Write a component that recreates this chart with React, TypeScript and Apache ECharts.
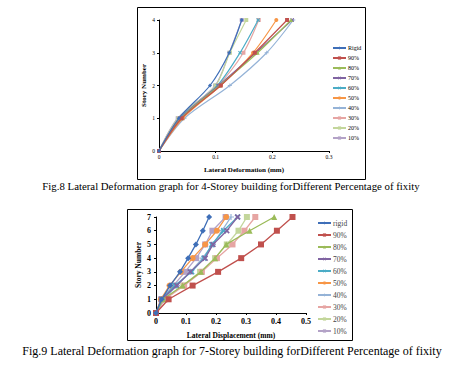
import React, { useEffect, useRef } from "react";
import * as echarts from "echarts";

const legendNames = ["Rigid", "90%", "80%", "70%", "60%", "50%", "40%", "30%", "20%", "10%"];
const legendNames7 = ["rigid", "90%", "80%", "70%", "60%", "50%", "40%", "30%", "20%", "10%"];
const colors = ["#3F6FB8", "#C0504D", "#9BBB59", "#8064A2", "#4BACC6", "#F79646", "#95B3D7", "#E6A5A3", "#C3D69B", "#B3A2C7"];
const xSym = "path://M0,2L2,0L5,3L8,0L10,2L7,5L10,8L8,10L5,7L2,10L0,8L3,5Z";
const symbols = ["diamond", "rect", "triangle", xSym, xSym, "circle", "path://M4,0H6V4H10V6H6V10H4V6H0V4H4Z", "path://M0,4H10V6H0Z", "path://M0,4H10V6H0Z", "rect"];

const stories4 = [0, 1, 2, 3, 4];
const top4: number[][] = [
  [0, 0.035, 0.09, 0.124, 0.146],
  [0, 0.04, 0.109, 0.169, 0.226],
  [0, 0.039, 0.107, 0.174, 0.233],
  [0, 0.038, 0.105, 0.171, 0.235],
  [0, 0.037, 0.103, 0.143, 0.175],
  [0, 0.042, 0.109, 0.166, 0.207],
  [0, 0.045, 0.125, 0.19, 0.237],
  [0, 0.036, 0.104, 0.149, 0.176],
  [0, 0.034, 0.1, 0.125, 0.154],
  [0, 0.033, 0.099, 0.124, 0.146],
];

const stories7 = [0, 1, 2, 3, 4, 5, 6, 7];
const bot7: number[][] = [
  [0, 0.019, 0.047, 0.08, 0.107, 0.133, 0.156, 0.177],
  [0, 0.042, 0.122, 0.207, 0.284, 0.35, 0.403, 0.455],
  [0, 0.024, 0.089, 0.15, 0.197, 0.234, 0.312, 0.394],
  [0, 0.019, 0.069, 0.114, 0.164, 0.19, 0.236, 0.272],
  [0, 0.019, 0.063, 0.119, 0.16, 0.186, 0.225, 0.272],
  [0, 0.016, 0.045, 0.083, 0.122, 0.164, 0.203, 0.234],
  [0, 0.025, 0.07, 0.115, 0.155, 0.19, 0.22, 0.25],
  [0, 0.03, 0.094, 0.153, 0.203, 0.255, 0.295, 0.331],
  [0, 0.024, 0.091, 0.147, 0.197, 0.236, 0.275, 0.303],
  [0, 0.017, 0.058, 0.097, 0.134, 0.164, 0.188, 0.232],
];

const FONT = "Liberation Serif";

export default function App() {
  const ref = useRef<HTMLDivElement>(null);
  useEffect(() => {
    if (!ref.current) return;
    const chart = echarts.init(ref.current, null, { renderer: "svg" });
    const axisCommon = {
      axisLine: { show: true, lineStyle: { color: "#000", width: 1 } },
      axisTick: { show: true, length: 2, lineStyle: { color: "#000" } },
      splitLine: { show: false },
    };
    const series: any[] = [];
    top4.forEach((vals, i) => {
      series.push({
        type: "line",
        name: legendNames[i],
        xAxisIndex: 0,
        yAxisIndex: 0,
        smooth: 0.3,
        data: vals.map((v, k) => [v, stories4[k]]),
        symbol: symbols[i],
        symbolSize: 4,
        itemStyle: { color: colors[i] },
        lineStyle: { width: 1.2, color: colors[i] },
        z: 20 - i,
      });
    });
    bot7.forEach((vals, i) => {
      series.push({
        type: "line",
        name: legendNames7[i],
        xAxisIndex: 1,
        yAxisIndex: 1,
        data: vals.map((v, k) => [v, stories7[k]]),
        symbol: symbols[i],
        symbolSize: 6,
        itemStyle: { color: colors[i] },
        lineStyle: { width: 1.3, color: colors[i] },
        z: 20 - i,
      });
    });
    chart.setOption({
      animation: false,
      backgroundColor: "#fff",
      textStyle: { fontFamily: FONT },
      grid: [
        { left: 159, top: 20, width: 170, height: 131 },
        { left: 156, top: 217, width: 150, height: 96 },
      ],
      xAxis: [
        {
          type: "value", gridIndex: 0, min: 0, max: 0.3, interval: 0.1,
          name: "Lateral Deformation (mm)", nameLocation: "middle", nameGap: 15,
          nameTextStyle: { fontFamily: FONT, fontWeight: "bold", fontSize: 7, color: "#000" },
          axisLabel: { fontFamily: FONT, fontSize: 5.5, color: "#000", margin: 3 },
          ...axisCommon,
        },
        {
          type: "value", gridIndex: 1, min: 0, max: 0.5, interval: 0.1,
          name: "Lateral Displacement (mm)", nameLocation: "middle", nameGap: 18,
          nameTextStyle: { fontFamily: FONT, fontWeight: "bold", fontSize: 7.5, color: "#000" },
          axisLabel: { fontFamily: FONT, fontSize: 8, fontWeight: "bold", color: "#000", margin: 4 },
          ...axisCommon,
        },
      ],
      yAxis: [
        {
          type: "value", gridIndex: 0, min: 0, max: 4, interval: 1,
          name: "Story Number", nameLocation: "middle", nameGap: 12,
          nameTextStyle: { fontFamily: FONT, fontWeight: "bold", fontSize: 7, color: "#000" },
          axisLabel: { fontFamily: FONT, fontSize: 5.5, color: "#000", margin: 4 },
          ...axisCommon,
        },
        {
          type: "value", gridIndex: 1, min: 0, max: 7, interval: 1,
          name: "Story Number", nameLocation: "middle", nameGap: 14,
          nameTextStyle: { fontFamily: FONT, fontWeight: "bold", fontSize: 7.5, color: "#000" },
          axisLabel: { fontFamily: FONT, fontSize: 8, fontWeight: "bold", color: "#000", margin: 5 },
          ...axisCommon,
        },
      ],
      legend: [
        {
          data: legendNames, orient: "vertical", left: 332, top: 45, itemWidth: 13, itemHeight: 4,
          itemGap: 4, textStyle: { fontFamily: FONT, fontSize: 6, lineHeight: 6, color: "#000", padding: [0, 0, 0, -3] },
          padding: 0,
        },
        {
          data: legendNames7.map((n) => n), orient: "vertical", left: 317, top: 219, itemWidth: 13, itemHeight: 4,
          itemGap: 4, textStyle: { fontFamily: FONT, fontSize: 7.5, lineHeight: 8, color: "#444", padding: [0, 0, 0, -3] },
          padding: 0,
        },
      ],
      graphic: [
        { type: "rect", shape: { x: 137.5, y: 7.5, width: 228, height: 172 }, style: { fill: "none", stroke: "#000", lineWidth: 1 }, silent: true },
        { type: "rect", shape: { x: 127.5, y: 209.5, width: 225, height: 131 }, style: { fill: "none", stroke: "#000", lineWidth: 1 }, silent: true },
        {
          type: "text", x: 231, y: 186,
          style: { text: "Fig.8 Lateral Deformation graph for 4-Storey building forDifferent Percentage of fixity", fontFamily: FONT, fontSize: 10.8, fill: "#000", align: "center", verticalAlign: "middle" },
        },
        {
          type: "text", x: 232, y: 351,
          style: { text: "Fig.9 Lateral Deformation graph for 7-Storey building forDifferent Percentage of fixity", fontFamily: FONT, fontSize: 12, fill: "#000", align: "center", verticalAlign: "middle" },
        },
      ],
      series,
    });
    return () => chart.dispose();
  }, []);
  return <div ref={ref} style={{ position: "fixed", left: 0, top: 0, width: 462, height: 368, background: "#fff" }} />;
}
